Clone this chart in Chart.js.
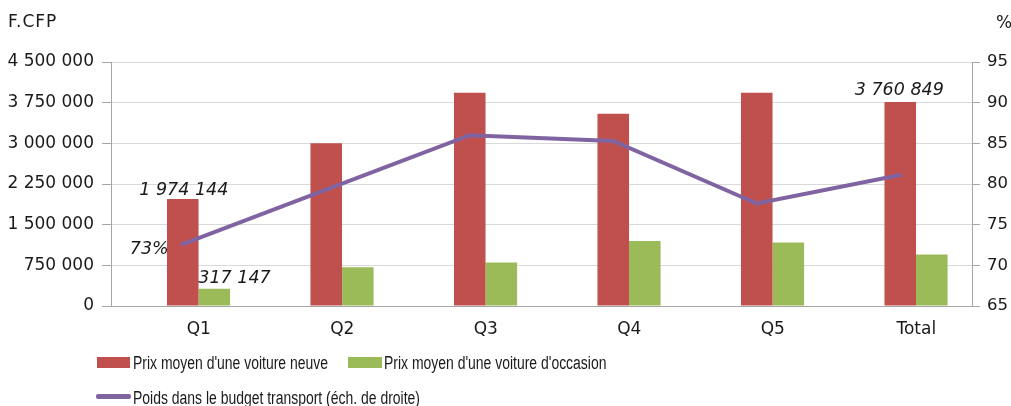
<!DOCTYPE html>
<html>
<head>
<meta charset="utf-8">
<script src="https://cdn.jsdelivr.net/npm/chart.js@4.4.1/dist/chart.umd.min.js"></script>
<style>
  html, body { margin: 0; padding: 0; background: #fff; }
  #wrap { position: relative; width: 1011px; height: 406px; overflow: hidden; font-family: "DejaVu Sans", sans-serif; color: #1a1a1a; }
  canvas { position: absolute; left: 0; top: 0; }
  .unit { position: absolute; font-size: 17px; line-height: 20px; letter-spacing: 1px; }
  .leg { position: absolute; font-family: "Liberation Sans", sans-serif; font-size: 18px; line-height: 20px; white-space: nowrap; transform: scaleX(0.775); transform-origin: 0 50%; }
  .box { position: absolute; }
</style>
</head>
<body>
<div id="wrap">
  <canvas id="c" width="1011" height="406"></canvas>
  <div class="unit" style="left:8px; top:11px;">F.CFP</div>
  <div class="unit" style="left:996px; top:12px; letter-spacing:0;">%</div>
  <div class="box" style="left:97px; top:357px; width:33px; height:11px; background:#C0504D;"></div>
  <div class="leg" style="left:133px; top:353px;">Prix moyen d'une voiture neuve</div>
  <div class="box" style="left:348px; top:357px; width:34px; height:11px; background:#9BBB59;"></div>
  <div class="leg" style="left:384px; top:353px;">Prix moyen d'une voiture d'occasion</div>
  <div class="box" style="left:96px; top:394px; width:35px; height:4.5px; border-radius:2px; background:#8064A2;"></div>
  <div class="leg" style="left:133px; top:388px;">Poids dans le budget transport (éch. de droite)</div>
</div>
<script>
const categories = ['Q1', 'Q2', 'Q3', 'Q4', 'Q5', 'Total'];
const newCarPrice = [1974144, 3000000, 3935000, 3545000, 3935000, 3760849];
const usedCarPrice = [317147, 715000, 800000, 1200000, 1170000, 950000];
const transportShare = [72.6, 79.3, 86.0, 85.3, 77.6, 81.1];
const spacer = [null, null, null, null, null, null];

const leftMin = 0, leftMax = 4500000, leftStep = 750000;
const rightMin = 65, rightMax = 95, rightStep = 5;

function fmt(v) { return String(Math.round(v)).replace(/\B(?=(\d{3})+(?!\d))/g, ' '); }

const labelSpecs = [
  { ds: 2, i: 0, text: v => fmt(v), dx: 1, dy: -9, align: 'center' },
  { ds: 2, i: 5, text: v => fmt(v), dx: -1, dy: -12, align: 'center' },
  { ds: 3, i: 0, text: v => fmt(v), dx: -16, dy: -10, align: 'left' },
  { ds: 0, i: 0, text: v => Math.round(v) + '%', dx: -14, dy: 5, align: 'right' }
];

const labelPlugin = {
  id: 'pointLabels',
  afterDatasetsDraw(chart) {
    const ctx = chart.ctx;
    ctx.save();
    ctx.font = 'italic 17.5px "DejaVu Sans", sans-serif';
    ctx.fillStyle = '#1a1a1a';
    ctx.textBaseline = 'middle';
    labelSpecs.forEach(s => {
      const el = chart.getDatasetMeta(s.ds).data[s.i];
      const v = chart.data.datasets[s.ds].data[s.i];
      ctx.textAlign = s.align;
      ctx.fillText(s.text(v), el.x + s.dx, el.y + s.dy);
    });
    ctx.restore();
  }
};

new Chart(document.getElementById('c'), {
  data: {
    labels: categories,
    datasets: [
      { type: 'line', label: 'Poids dans le budget transport (éch. de droite)', data: transportShare,
        yAxisID: 'y2', borderColor: '#8064A2', borderWidth: 4, pointRadius: 0, tension: 0, fill: false,
        borderCapStyle: 'round' },
      { type: 'bar', label: '', data: spacer, yAxisID: 'y', backgroundColor: 'rgba(0,0,0,0)' },
      { type: 'bar', label: "Prix moyen d'une voiture neuve", data: newCarPrice, yAxisID: 'y',
        backgroundColor: '#C0504D', borderWidth: 0 },
      { type: 'bar', label: "Prix moyen d'une voiture d'occasion", data: usedCarPrice, yAxisID: 'y',
        backgroundColor: '#9BBB59', borderWidth: 0 }
    ]
  },
  options: {
    responsive: false,
    animation: false,
    devicePixelRatio: 1,
    datasets: { bar: { categoryPercentage: 0.66, barPercentage: 1.0 } },
    layout: { padding: { top: 62, left: 0, right: 0, bottom: 0 } },
    plugins: { legend: { display: false }, tooltip: { enabled: false } },
    scales: {
      x: {
        type: 'category',
        offset: true,
        grid: { display: false },
        border: { display: true, color: '#A6A6A6', width: 1 },
        ticks: { color: '#1a1a1a', font: { family: '"DejaVu Sans", sans-serif', size: 17 }, padding: 5, labelOffset: 16, maxRotation: 0 },
        afterFit(s) { s.height = 100; }
      },
      y: {
        position: 'left',
        min: leftMin, max: leftMax,
        ticks: { stepSize: leftStep, callback: v => fmt(v), color: '#1a1a1a',
          font: { family: '"DejaVu Sans", sans-serif', size: 17 }, padding: 8 },
        grid: { color: '#D9D9D9', lineWidth: 1, tickLength: 9, tickColor: '#A6A6A6' },
        border: { color: '#A6A6A6', width: 1 },
        afterFit(s) { s.width = 111; }
      },
      y2: {
        position: 'right',
        min: rightMin, max: rightMax,
        ticks: { stepSize: rightStep, color: '#1a1a1a',
          font: { family: '"DejaVu Sans", sans-serif', size: 16.5 }, padding: 7 },
        grid: { drawOnChartArea: false, tickLength: 8, tickColor: '#A6A6A6' },
        border: { color: '#A6A6A6', width: 1 },
        afterFit(s) { s.width = 39; }
      }
    }
  },
  plugins: [labelPlugin]
});
</script>
</body>
</html>
